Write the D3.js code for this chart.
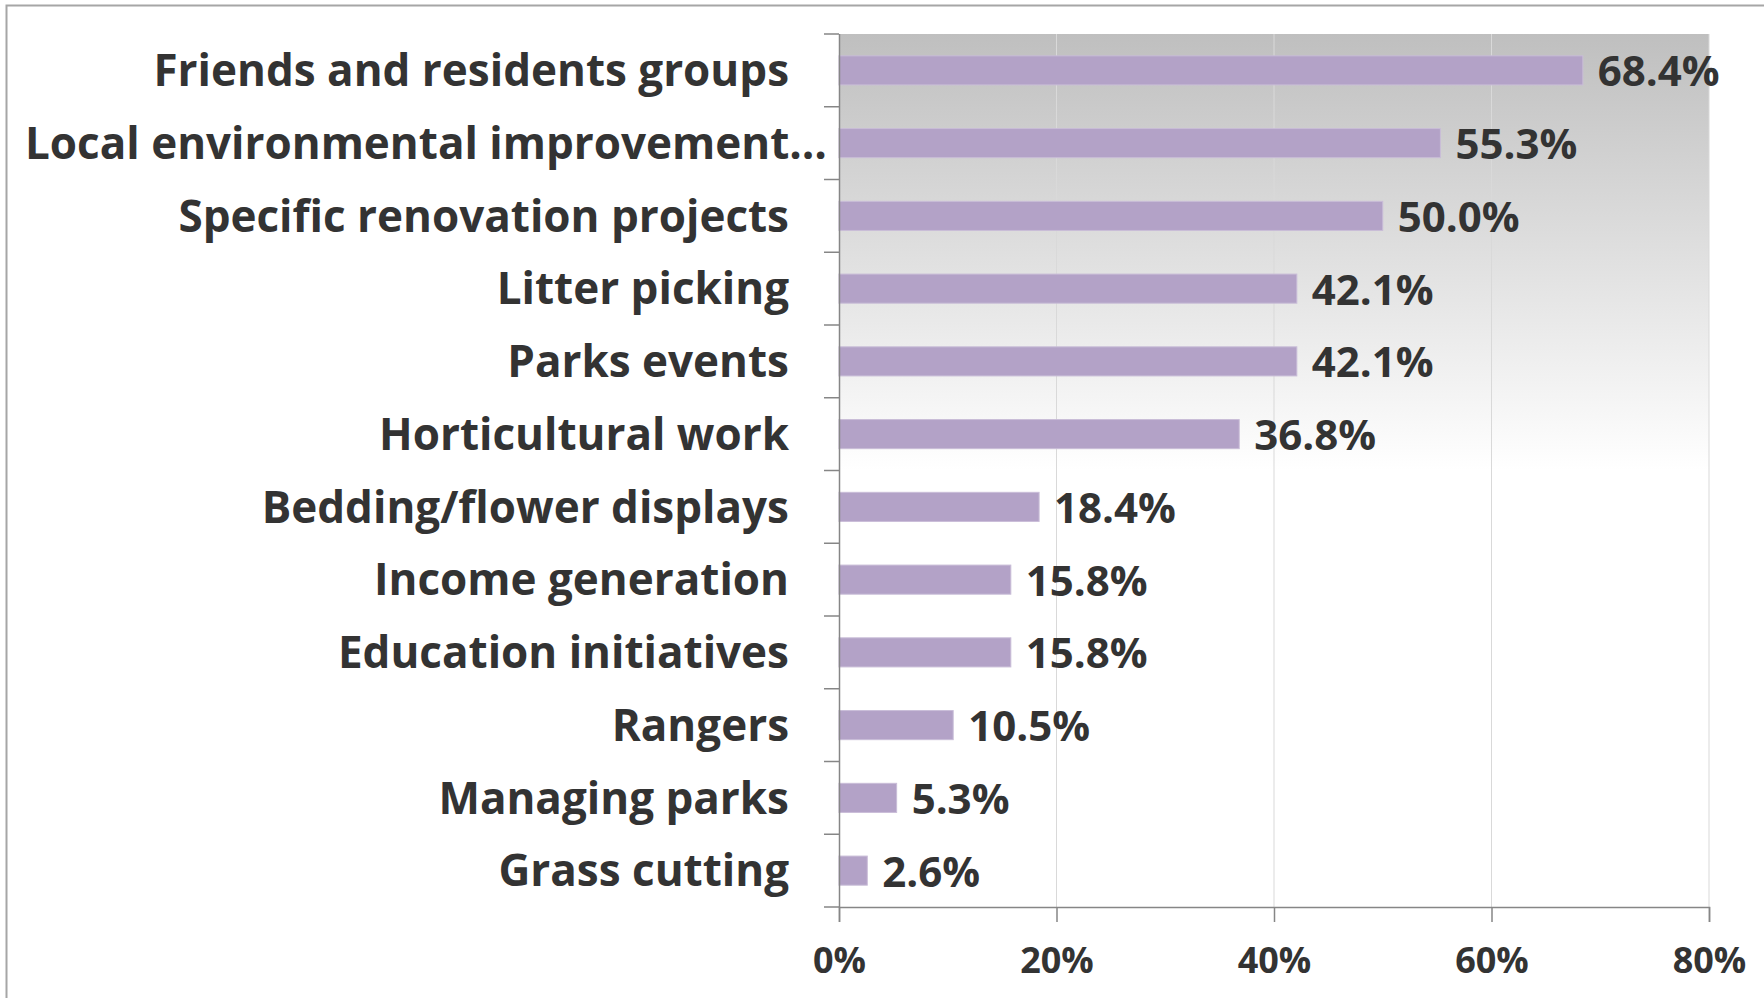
<!DOCTYPE html>
<html>
<head>
<meta charset="utf-8">
<script src="https://cdn.jsdelivr.net/npm/d3@7"></script>
<style>
  body { margin: 0; background: #fff; }
  svg { display: block; }
  text { font-family: "Open Sans", Lato, sans-serif; font-weight: bold; fill: #333; }
</style>
</head>
<body>
<svg width="1764" height="998"></svg>
<script>
// categories top to bottom
var categories = [
  "Friends and residents groups",
  "Local environmental improvement…",
  "Specific renovation projects",
  "Litter picking",
  "Parks events",
  "Horticultural work",
  "Bedding/flower displays",
  "Income generation",
  "Education initiatives",
  "Rangers",
  "Managing parks",
  "Grass cutting"
];
var values = [68.4, 55.3, 50.0, 42.1, 42.1, 36.8, 18.4, 15.8, 15.8, 10.5, 5.3, 2.6];
var xTicks = [0, 20, 40, 60, 80];

var svg = d3.select("svg"),
    width = +svg.attr("width"),
    height = +svg.attr("height");

var margin = {top: 34, right: 55, bottom: 91, left: 839};
var innerW = width - margin.left - margin.right,
    innerH = height - margin.top - margin.bottom;

// outer chart border (only top and left visible)
svg.append("rect")
  .attr("x", 6.5).attr("y", 5.5)
  .attr("width", width + 20).attr("height", height + 20)
  .attr("fill", "none")
  .attr("stroke", "#a6a6a6")
  .attr("stroke-width", 2);

var defs = svg.append("defs");
var grad = defs.append("linearGradient")
  .attr("id", "bg").attr("x1", 0).attr("y1", 0).attr("x2", 0).attr("y2", 1);
grad.append("stop").attr("offset", "0%").attr("stop-color", "#bfbfbf");
grad.append("stop").attr("offset", "50%").attr("stop-color", "#ffffff");

var g = svg.append("g").attr("transform", "translate(" + margin.left + "," + margin.top + ")");

var x = d3.scaleLinear().domain([0, 80]).range([0, innerW]);
var y = d3.scaleBand().domain(categories).range([0, innerH]).paddingInner(0.6).paddingOuter(0.3);

g.append("rect")
  .attr("width", innerW).attr("height", innerH)
  .attr("fill", "url(#bg)");

// gridlines
g.append("g")
  .selectAll("line")
  .data(xTicks.slice(1))
  .enter().append("line")
    .attr("x1", function(d) { return x(d); })
    .attr("x2", function(d) { return x(d); })
    .attr("y1", 0).attr("y2", innerH)
    .attr("stroke", "#d9d9d9")
    .attr("stroke-width", 1);

// bars
g.append("g")
  .selectAll("rect")
  .data(values)
  .enter().append("rect")
    .attr("x", 0)
    .attr("y", function(d, i) { return y(categories[i]); })
    .attr("width", function(d) { return x(d); })
    .attr("height", y.bandwidth())
    .attr("fill", "#b3a2c7")
    .attr("stroke", "#c9bdd8")
    .attr("stroke-width", 1);

// value labels
g.append("g")
  .selectAll("text")
  .data(values)
  .enter().append("text")
    .attr("x", function(d) { return x(d) + 15; })
    .attr("y", function(d, i) { return y(categories[i]) + y.bandwidth() / 2; })
    .attr("dy", "0.38em")
    .attr("font-size", 42)
    .text(function(d) { return d.toFixed(1) + "%"; });

// category labels, right aligned; a label too long for the space starts at the left edge
var labelLeft = 25 - margin.left;
g.append("g")
  .selectAll("text")
  .data(categories)
  .enter().append("text")
    .attr("x", -50)
    .attr("y", function(d) { return y(d) + y.bandwidth() / 2; })
    .attr("dy", "0.36em")
    .attr("text-anchor", "end")
    .attr("font-size", 44)
    .text(function(d) { return d; })
    .each(function() {
      var w = this.getComputedTextLength();
      if (-50 - w < labelLeft) {
        d3.select(this).attr("text-anchor", "start").attr("x", labelLeft);
      }
    });

// left axis with boundary ticks
var step = innerH / categories.length;
var yAxis = g.append("g");
yAxis.append("line")
  .attr("x1", 0.5).attr("x2", 0.5).attr("y1", 0).attr("y2", innerH)
  .attr("stroke", "#868686").attr("stroke-width", 1.5);
yAxis.selectAll("line.tick")
  .data(d3.range(categories.length + 1))
  .enter().append("line")
    .attr("class", "tick")
    .attr("x1", -15).attr("x2", 0)
    .attr("y1", function(d) { return d * step; })
    .attr("y2", function(d) { return d * step; })
    .attr("stroke", "#868686").attr("stroke-width", 1.5);

// bottom axis
var xAxis = g.append("g").attr("transform", "translate(0," + innerH + ")")
  .call(d3.axisBottom(x).tickValues(xTicks).tickSize(15).tickPadding(25)
    .tickFormat(function(d) { return d + "%"; }));
xAxis.select(".domain").attr("stroke", "#868686").attr("stroke-width", 1.5);
xAxis.selectAll(".tick line").attr("stroke", "#868686").attr("stroke-width", 1.5);
xAxis.selectAll(".tick text")
  .attr("font-size", 36)
  .attr("font-family", "'Open Sans', sans-serif")
  .attr("fill", "#333");
</script>
</body>
</html>
